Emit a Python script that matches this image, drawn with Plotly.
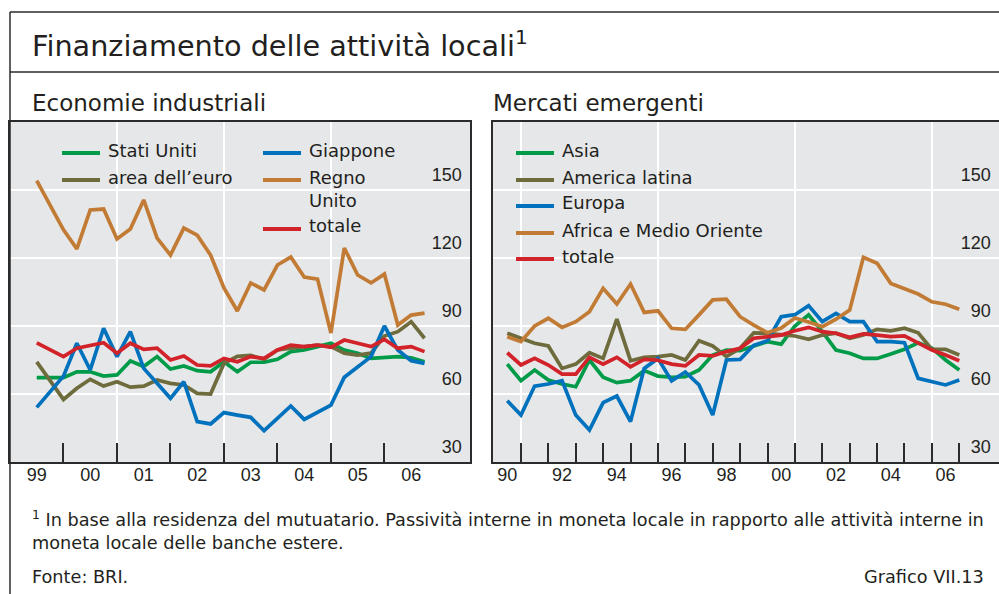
import plotly.graph_objects as go

# ---------------- data ----------------
# Economie industriali: quarterly observations
quarters_ind = [1999.50, 1999.75, 2000.00, 2000.25, 2000.50, 2000.75, 2001.00, 2001.25,
                2001.50, 2001.75, 2002.00, 2002.25, 2002.50, 2002.75, 2003.00, 2003.25,
                2003.50, 2003.75, 2004.00, 2004.25, 2004.50, 2004.75, 2005.00, 2005.25,
                2005.50, 2005.75, 2006.00, 2006.25, 2006.50, 2006.75]
stati_uniti = [67.2, 67.2, 67.2, 69.8, 69.8, 67.9, 68.4, 74.6, 72.1, 76.5, 71.0, 72.4, 70.3, 69.8, 74.2,
               69.8, 74.0, 74.0, 75.3, 78.7, 79.4, 80.9, 82.4, 79.4, 78.0, 75.7, 76.0, 76.5, 76.0, 74.2]
area_euro = [74.2, 66.2, 57.6, 62.5, 66.5, 63.5, 65.4, 63.0, 63.5, 66.2, 64.7, 64.0, 60.3, 60.0, 73.5,
             76.6, 77.0, 75.3, 79.4, 80.2, 80.9, 81.6, 80.9, 78.0, 77.2, 78.0, 85.6, 87.5, 91.9, 84.6]
giappone = [54.1, 61.0, 67.9, 82.4, 70.6, 89.0, 76.5, 87.5, 71.3, 64.7, 58.1, 65.4, 47.8, 46.8, 51.8,
            50.7, 49.7, 43.8, 49.3, 54.7, 48.8, 51.9, 55.1, 67.4, 71.8, 76.5, 90.0, 79.4, 74.7, 73.5]
regno_unito = [154.1, 143.0, 132.4, 124.0, 141.2, 141.6, 128.4, 132.8, 145.6, 128.8, 121.3, 133.2, 130.1,
               121.3, 106.8, 96.6, 109.0, 105.9, 116.9, 120.4, 111.6, 110.7, 86.9, 124.4, 112.5, 109.0,
               112.9, 90.4, 94.8, 95.7]
totale_ind = [82.6, 79.4, 76.5, 80.2, 81.6, 82.6, 78.0, 82.4, 79.7, 80.2, 75.0, 76.8, 72.8, 72.4, 75.7,
              74.2, 76.5, 75.7, 79.4, 81.6, 80.9, 81.6, 80.6, 83.8, 82.4, 80.9, 84.1, 80.2, 80.9, 78.7]

# Mercati emergenti: half-yearly observations
semesters_em = [1990.5, 1991.0, 1991.5, 1992.0, 1992.5, 1993.0, 1993.5, 1994.0, 1994.5, 1995.0,
                1995.5, 1996.0, 1996.5, 1997.0, 1997.5, 1998.0, 1998.5, 1999.0, 1999.5, 2000.0,
                2000.5, 2001.0, 2001.5, 2002.0, 2002.5, 2003.0, 2003.5, 2004.0, 2004.5, 2005.0,
                2005.5, 2006.0, 2006.5, 2007.0]
asia = [73.2, 65.9, 70.6, 66.2, 64.4, 63.2, 75.0, 67.4, 65.0, 65.9, 70.3, 67.9, 67.4, 67.6, 70.6, 77.2, 79.4,
        79.1, 81.2, 83.1, 82.0, 90.0, 94.9, 87.5, 79.4, 78.0, 75.7, 75.7, 77.6, 79.7, 82.6, 80.2, 75.0, 70.6]
america_latina = [86.8, 84.6, 82.4, 81.2, 71.3, 73.2, 78.2, 75.7, 93.0, 74.7, 76.2, 76.5, 77.2, 75.0, 83.5,
                  81.2, 76.5, 80.2, 87.0, 86.8, 86.0, 85.6, 84.1, 86.0, 86.8, 84.6, 86.0, 88.5, 87.9, 89.0,
                  87.0, 79.7, 79.7, 77.2]
europa = [57.0, 50.7, 63.5, 64.4, 65.9, 50.7, 44.1, 56.2, 59.1, 47.8, 71.3, 75.7, 65.8, 69.7, 64.0, 50.7, 75.0,
          75.3, 81.5, 83.5, 94.1, 95.0, 99.0, 91.9, 95.6, 91.9, 91.9, 83.1, 83.1, 82.6, 66.9, 65.4, 64.0, 66.2]
africa_mo = [85.3, 83.1, 90.0, 93.4, 89.4, 91.9, 96.3, 106.6, 99.7, 108.5, 96.0, 96.7, 89.0, 88.5, 94.9,
             101.5, 101.8, 94.1, 90.4, 87.0, 89.1, 93.5, 91.8, 89.7, 93.0, 97.0, 120.3, 117.7, 108.8, 106.6,
             104.1, 100.7, 99.6, 97.4]
totale_em = [78.2, 72.8, 75.7, 72.8, 68.8, 68.8, 76.2, 73.2, 76.2, 72.0, 75.3, 74.9, 73.2, 72.4, 77.2, 76.8,
             78.7, 80.2, 84.6, 85.3, 86.0, 87.9, 89.4, 87.5, 86.8, 85.0, 86.5, 86.0, 85.3, 85.6, 82.4, 79.4,
             77.2, 74.7]

# axis ticks / labels
y_ticks = [30, 60, 90, 120, 150]
ind_label_pos = [1999.5, 2000.5, 2001.5, 2002.5, 2003.5, 2004.5, 2005.5, 2006.5]
ind_labels = ["99", "00", "01", "02", "03", "04", "05", "06"]
ind_tick_marks = [2000, 2001, 2002, 2003, 2004, 2005, 2006]
ind_grid = [2001, 2003, 2005, 2007]
em_label_pos = [1990.5, 1992.5, 1994.5, 1996.5, 1998.5, 2000.5, 2002.5, 2004.5, 2006.5]
em_labels = ["90", "92", "94", "96", "98", "00", "02", "04", "06"]
em_tick_marks = [1991, 1992, 1993, 1994, 1995, 1996, 1997, 1998, 1999, 2000, 2001, 2002, 2003,
                 2004, 2005, 2006, 2007]
em_grid = [1991, 1996, 2001, 2006]

# ---------------- styling ----------------
W, H = 999, 594
FONT = "DejaVu Sans"
NUMFONT = "Liberation Sans"
TXT = "#231F20"
FRAME = "#2b2b2b"
BG = "#E6E7E9"
C_GREEN = "#009B48"
C_OLIVE = "#6E6B3C"
C_BLUE = "#0071BC"
C_ORANGE = "#C27B34"
C_RED = "#D2232A"
LW = 3.7


def px(x):
    return x / W


def py(y):
    return 1 - y / H


fig = go.Figure()

ind_series = [("Stati Uniti", stati_uniti, C_GREEN), ("area dell’euro", area_euro, C_OLIVE),
              ("Giappone", giappone, C_BLUE), ("Regno Unito", regno_unito, C_ORANGE),
              ("totale", totale_ind, C_RED)]
for name, vals, col in ind_series:
    fig.add_trace(go.Scatter(x=quarters_ind, y=vals, mode="lines", name=name,
                             line=dict(color=col, width=LW), xaxis="x", yaxis="y",
                             showlegend=False))

em_series = [("Asia", asia, C_GREEN), ("America latina", america_latina, C_OLIVE),
             ("Europa", europa, C_BLUE), ("Africa e Medio Oriente", africa_mo, C_ORANGE),
             ("totale", totale_em, C_RED)]
for name, vals, col in em_series:
    fig.add_trace(go.Scatter(x=semesters_em, y=vals, mode="lines", name=name,
                             line=dict(color=col, width=LW), xaxis="x2", yaxis="y2",
                             showlegend=False))

# invisible helper traces so that the label-only overlay axes are drawn
for xa, ya in [("x3", "y"), ("x4", "y2")]:
    fig.add_trace(go.Scatter(x=[None], y=[None], mode="lines", xaxis=xa, yaxis=ya,
                             showlegend=False, hoverinfo="skip"))

y_top = py(122)
y_bot = py(462)

common_y = dict(range=[30, 180], tickvals=y_ticks, side="right", showgrid=True,
                gridcolor="white", gridwidth=2, showline=True, linecolor=FRAME, linewidth=1.8,
                mirror=True, ticks="", ticklabelposition="inside", ticklabelshift=-15,
                ticklabelstandoff=9, tickfont=dict(family=NUMFONT, size=18, color=TXT),
                domain=[y_bot, y_top], zeroline=False, fixedrange=True)

label_x = dict(ticks="", showgrid=False, showline=False, zeroline=False,
               tickfont=dict(family=NUMFONT, size=18, color=TXT))

fig.update_layout(
    width=W, height=H, margin=dict(l=0, r=0, t=0, b=0),
    paper_bgcolor="white", plot_bgcolor=BG, showlegend=False,
    font=dict(family=FONT, color=TXT),
    xaxis=dict(domain=[px(10), px(470)], range=[1999.0, 2007.6], anchor="y",
               tickvals=ind_grid, showticklabels=False, ticks="", showgrid=True,
               gridcolor="white", gridwidth=2, showline=True, linecolor=FRAME, linewidth=1.8,
               mirror=True, zeroline=False,
               minor=dict(tickvals=ind_tick_marks, ticks="inside", ticklen=19, tickwidth=1.6,
                          tickcolor=FRAME, showgrid=False)),
    xaxis3=dict(overlaying="x", anchor="y", range=[1999.0, 2007.6], tickvals=ind_label_pos,
                ticktext=ind_labels, **label_x),
    yaxis=dict(anchor="x", **common_y),
    xaxis2=dict(domain=[px(493), 1.0], range=[1989.98, 2008.45], anchor="y2",
                tickvals=em_grid, showticklabels=False, ticks="", showgrid=True,
                gridcolor="white", gridwidth=2, showline=True, linecolor=FRAME, linewidth=1.8,
                mirror=True, zeroline=False,
                minor=dict(tickvals=em_tick_marks, ticks="inside", ticklen=19, tickwidth=1.6,
                           tickcolor=FRAME, showgrid=False)),
    xaxis4=dict(overlaying="x2", anchor="y2", range=[1989.98, 2008.45], tickvals=em_label_pos,
                ticktext=em_labels, **label_x),
    yaxis2=dict(anchor="x2", **common_y),
)

# frame lines of the whole exhibit
shapes = [
    dict(type="line", xref="paper", yref="paper", x0=px(10), x1=1.0, y0=py(12), y1=py(12),
         line=dict(color=FRAME, width=1.5)),
    dict(type="line", xref="paper", yref="paper", x0=px(10), x1=1.0, y0=py(72), y1=py(72),
         line=dict(color=FRAME, width=1.5)),
    dict(type="line", xref="paper", yref="paper", x0=px(10), x1=px(10), y0=py(12), y1=0,
         line=dict(color=FRAME, width=1.5)),
]

annotations = []


def text(x, y, s, size, anchor="left"):
    annotations.append(dict(xref="paper", yref="paper", x=px(x), y=py(y), text=s,
                            showarrow=False, xanchor=anchor, yanchor="middle",
                            font=dict(family=FONT, size=size, color=TXT)))


def legend_item(x0, y, label, col, label_y=None):
    shapes.append(dict(type="line", xref="paper", yref="paper", x0=px(x0), x1=px(x0 + 38),
                       y0=py(y), y1=py(y), line=dict(color=col, width=4)))
    text(x0 + 44, (label_y if label_y is not None else y - 3), label, 18)


# titles
text(30, 44, "Finanziamento delle attività locali<sup>1</sup>", 28.7)
text(30, 103, "Economie industriali", 23)
text(491, 103, "Mercati emergenti", 23)

# left legend
legend_item(62, 153, "Stati Uniti", C_GREEN)
legend_item(62, 180, "area dell’euro", C_OLIVE)
legend_item(263, 153, "Giappone", C_BLUE)
legend_item(263, 180, "Regno", C_ORANGE)
text(307, 200, "Unito", 18)
legend_item(263, 229, "totale", C_RED)

# right legend
for (name, _, col), yy in zip(em_series, [153, 180, 206, 233, 259]):
    legend_item(516, yy, name, col)

# footnotes
text(30, 518, "<sup>1</sup> In base alla residenza del mutuatario. Passività interne in moneta locale in rapporto alle attività interne in", 17.7)
text(30, 543, "moneta locale delle banche estere.", 17.7)
text(30, 577, "Fonte: BRI.", 17.7)
text(986, 577, "Grafico VII.13", 17.7, anchor="right")

fig.update_layout(shapes=shapes, annotations=annotations)

fig.write_html("out.html", config={"displayModeBar": False},
               post_script="document.body.style.margin='0';")
